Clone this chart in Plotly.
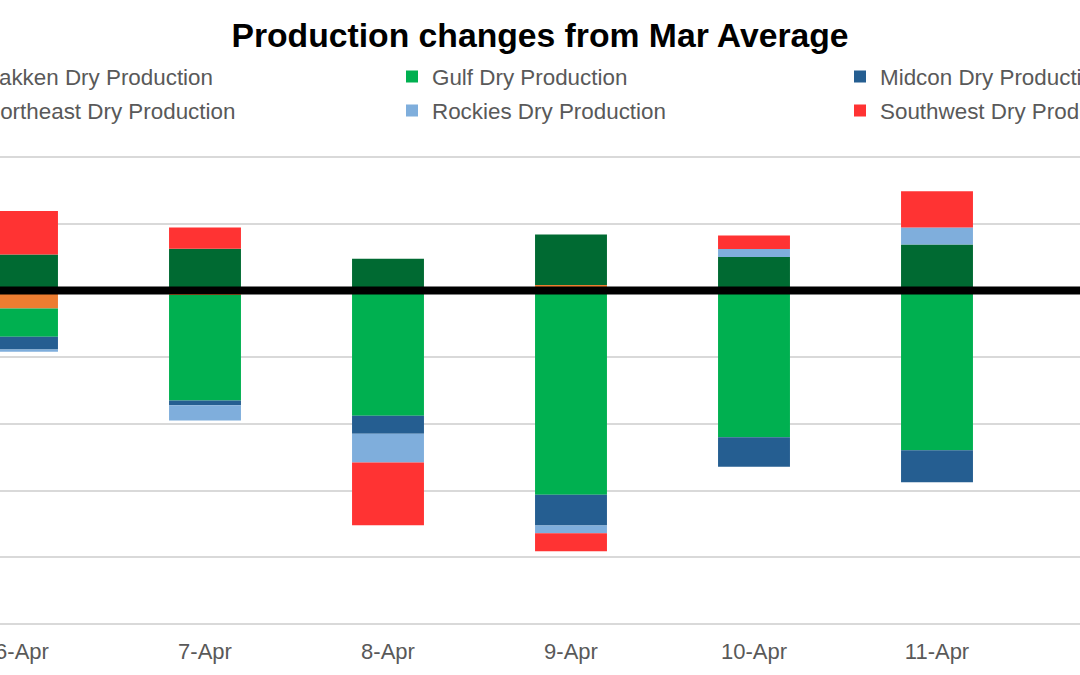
import plotly.graph_objects as go

# ---- data ----
dates = ["6-Apr", "7-Apr", "8-Apr", "9-Apr", "10-Apr", "11-Apr"]
bakken = [-0.135, -0.035, 0.0, 0.04, 0.0, 0.0]
gulf = [-0.212, -0.79, -0.94, -1.532, -1.10, -1.198]
midcon = [-0.095, -0.035, -0.135, -0.23, -0.222, -0.24]
northeast = [0.27, 0.3125, 0.2375, 0.38, 0.25, 0.345]
rockies = [-0.017, -0.115, -0.215, -0.058, 0.06, 0.1275]
southwest = [0.325, 0.16, -0.47, -0.135, 0.1025, 0.27]

series_names = ["Bakken Dry Production", "Gulf Dry Production", "Midcon Dry Production",
                "Northeast Dry Production", "Rockies Dry Production", "Southwest Dry Production"]
series_values = [bakken, gulf, midcon, northeast, rockies, southwest]
series_colors = ["#ED7D31", "#00B050", "#255E91", "#006A32", "#7FAEDC", "#FF3333"]

# The reference is a crop of a wider chart: the figure is drawn wider than the
# window and shifted left so that its left part falls outside the view.
VIEW_W, H = 1080, 675
SHIFT = 60
W = VIEW_W + SHIFT
FONT = "Liberation Sans, Arial, sans-serif"
TEXT_GREY = "#595959"

# legend placement: one legend per entry (columns 448px apart, two rows)
legend_ids = ["legend", "legend2", "legend3", "legend4", "legend5", "legend6"]
col_text_x = [-16, 432, 880]   # in window pixels
row_y = [77, 111]

fig = go.Figure()
for i, (name, vals, col) in enumerate(zip(series_names, series_values, series_colors)):
    fig.add_trace(go.Bar(
        x=dates, y=vals, name=name,
        marker=dict(color=col, line=dict(width=0)),
        legend=legend_ids[i],
    ))

legend_layouts = {}
for i, lid in enumerate(legend_ids):
    c = i % 3
    r = i // 3
    legend_layouts[lid] = dict(
        orientation="h",
        xref="container", yref="container",
        x=(col_text_x[c] + SHIFT - 40) / W, xanchor="left",
        y=1 - row_y[r] / H, yanchor="middle",
        font=dict(family=FONT, size=22.4, color=TEXT_GREY),
        bgcolor="rgba(0,0,0,0)",
        borderwidth=0,
    )

# category positions in window pixels: 6-Apr centre at x=22, 183 px apart
first_center = 22 + SHIFT
step = 183.0
x_range = [-first_center / step, (W - first_center) / step]

# value axis: gridlines every 0.5 from -2.5 (y=624px) to 1.0 (y=157px),
# padded slightly so the outer gridlines are drawn
PX_PER_UNIT = 467 / 3.5
PAD = 0.03
pad_px = PAD * PX_PER_UNIT

fig.update_layout(
    width=W, height=H,
    barmode="relative",
    bargap=0.607,
    paper_bgcolor="white",
    plot_bgcolor="white",
    margin=dict(l=0, r=0, t=157 - pad_px, b=51 - pad_px, autoexpand=False),
    title=dict(
        text="Production changes from Mar Average",
        x=(540 + SHIFT) / W, xanchor="center", xref="container",
        y=1 - 35 / H, yanchor="middle", yref="container",
        font=dict(family=FONT, size=33.7, color="black", weight="bold"),
    ),
    xaxis=dict(
        type="category",
        range=x_range,
        showgrid=False, zeroline=False, showline=False,
        ticks="",
        tickfont=dict(family=FONT, size=22, color=TEXT_GREY),
        ticklabelstandoff=int(round(12 - pad_px)),
    ),
    yaxis=dict(
        range=[-2.5 - PAD, 1.0 + PAD],
        dtick=0.5, tick0=0,
        showgrid=True, gridcolor="#D9D9D9", gridwidth=1.5,
        zeroline=False, showline=False,
        showticklabels=False, ticks="",
    ),
    showlegend=True,
    **legend_layouts,
)

# thick black line marking zero change, drawn above the bars
fig.add_shape(type="line", xref="paper", yref="y", x0=0, x1=1, y0=0, y1=0,
              line=dict(color="black", width=8), layer="above")

post = (
    "document.body.style.margin='0';"
    "document.body.style.overflow='hidden';"
    "var d=document.getElementById('{plot_id}');"
    "d.style.position='absolute';d.style.top='0px';"
    "d.style.left='-" + str(SHIFT) + "px';"
)

fig.write_html("out.html", post_script=post, config={"displayModeBar": False})
